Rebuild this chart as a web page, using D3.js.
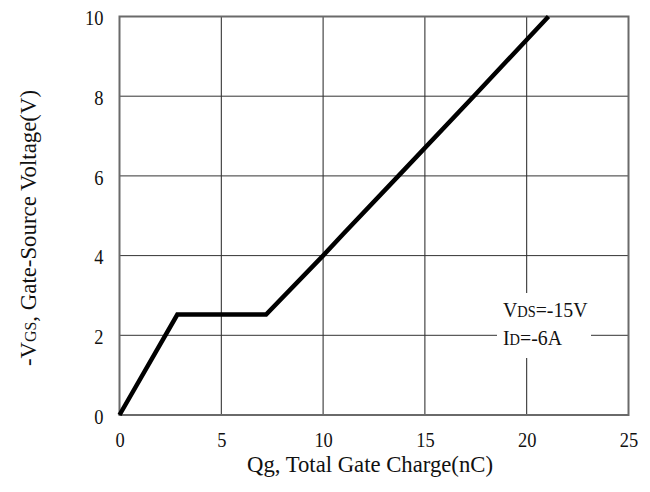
<!DOCTYPE html>
<html>
<head>
<meta charset="utf-8">
<script src="https://cdn.jsdelivr.net/npm/d3@7"></script>
<style>
  html, body { margin: 0; padding: 0; background: #fff; }
  svg text { font-family: "Liberation Serif", "DejaVu Serif", serif !important; fill: #111; }
</style>
</head>
<body>
<svg id="chart" width="650" height="492"></svg>
<script>
// Gate charge curve: -VGS versus total gate charge Qg
const qg  = [0, 2.84, 7.2, 10, 11, 13.7, 17.4, 21.07];
const vgs = [0, 2.52, 2.52, 4, 4.55, 6, 8, 10];

const xTicks = [0, 5, 10, 15, 20, 25];
const yTicks = [0, 2, 4, 6, 8, 10];

const xTitle = "Qg, Total Gate Charge(nC)";
const conditions = [
  { main: "V", sub: "DS", rest: "=-15V" },
  { main: "I", sub: "D", rest: "=-6A" }
];

const svg = d3.select("#chart");
const m = { left: 119.5, right: 628.5, top: 16.5, bottom: 415 };
const narrow = 0.84; // horizontal squeeze for the tall, narrow lettering

const x = d3.scaleLinear().domain([0, 25]).range([m.left, m.right]);
const y = d3.scaleLinear().domain([0, 10]).range([m.bottom, m.top]);

// grid
const grid = svg.append("g");
grid.selectAll("line.v").data(xTicks.slice(1, -1)).join("line")
  .attr("x1", d => x(d)).attr("x2", d => x(d))
  .attr("y1", m.top).attr("y2", m.bottom)
  .attr("stroke", "#222").attr("stroke-width", 1);
grid.selectAll("line.h").data(yTicks.slice(1, -1)).join("line")
  .attr("x1", m.left).attr("x2", m.right)
  .attr("y1", d => y(d)).attr("y2", d => y(d))
  .attr("stroke", "#333").attr("stroke-width", 1);

// white box behind the test-condition note
svg.append("rect")
  .attr("x", 497).attr("y", 293).attr("width", 94).attr("height", 65)
  .attr("fill", "#fff");

// frame
svg.append("rect")
  .attr("x", m.left).attr("y", m.top)
  .attr("width", m.right - m.left).attr("height", m.bottom - m.top)
  .attr("fill", "none").attr("stroke", "#6a6a6a").attr("stroke-width", 2);

// axes (labels only)
const xAxis = d3.axisBottom(x).tickValues(xTicks).tickSize(0).tickPadding(0)
  .tickFormat(d3.format("d"));
const gx = svg.append("g").attr("transform", `translate(0,${m.bottom})`).call(xAxis);
gx.select(".domain").remove();
gx.selectAll("text")
  .attr("dy", null).attr("y", 32)
  .attr("font-size", 22)
  .attr("transform", `scale(${narrow},1)`);

const yAxis = d3.axisLeft(y).tickValues(yTicks).tickSize(0).tickPadding(0)
  .tickFormat(d3.format("d"));
const gy = svg.append("g").attr("transform", `translate(${m.left},0)`).call(yAxis);
gy.select(".domain").remove();
gy.selectAll("text")
  .attr("x", -16 / narrow)
  .attr("dy", "0.38em")
  .attr("font-size", 22)
  .attr("transform", `scale(${narrow},1)`);

// the curve
const line = d3.line().x((d, i) => x(qg[i])).y((d, i) => y(vgs[i]));
svg.append("path")
  .datum(qg)
  .attr("d", line)
  .attr("fill", "none")
  .attr("stroke", "#000")
  .attr("stroke-width", 4.5)
  .attr("stroke-linejoin", "miter");

// titles
svg.append("text")
  .attr("x", 370).attr("y", 472)
  .attr("text-anchor", "middle")
  .attr("font-size", 23)
  .attr("textLength", 246).attr("lengthAdjust", "spacingAndGlyphs")
  .text(xTitle);

const yt = svg.append("text")
  .attr("transform", "translate(36,228) rotate(-90)")
  .attr("text-anchor", "middle")
  .attr("font-size", 23)
  .attr("textLength", 276).attr("lengthAdjust", "spacingAndGlyphs");
yt.append("tspan").text("-V");
yt.append("tspan").attr("font-size", 16).text("GS");
yt.append("tspan").text(", Gate-Source Voltage(V)");

// test conditions
conditions.forEach((c, i) => {
  const t = svg.append("text")
    .attr("transform", `translate(503,${317 + i * 28}) scale(0.9,1)`)
    .attr("font-size", 22);
  t.append("tspan").text(c.main);
  t.append("tspan").attr("font-size", 16).text(c.sub);
  t.append("tspan").text(c.rest);
});
</script>
</body>
</html>
